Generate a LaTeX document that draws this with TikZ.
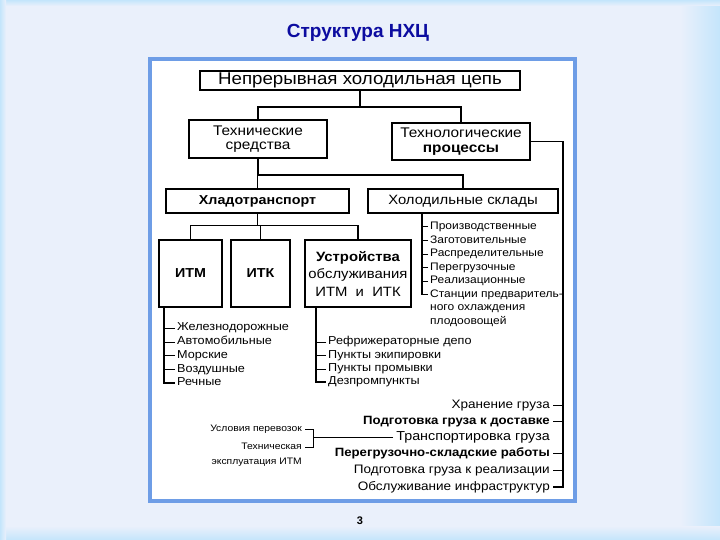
\documentclass[tikz,border=0pt]{standalone}
\usepackage{fontspec}
\setmainfont{Liberation Sans}
\newfontfamily\bm{Liberation Sans}[FakeStretch=1.1]
\usetikzlibrary{calc}
\definecolor{bgc}{HTML}{EAF0FB}
\definecolor{edgec}{HTML}{C4E5FB}
\definecolor{framec}{HTML}{6E9DE6}
\definecolor{titlec}{HTML}{0C0CA0}
\newcommand{\fs}[1]{\fontsize{#1}{#1}\selectfont}
\newcommand{\fsl}[2]{\fontsize{#1}{#2}\selectfont}
\begin{document}
\begin{tikzpicture}[x=1pt,y=-1pt,
  box/.style={draw, line width=1.8pt, inner sep=0pt, align=center, font=\bm\fsl{14}{14.5}},
  thickbox/.style={box, line width=2.6pt, font=\bm\fs{13.5}},
  conn/.style={line width=1.3pt},
  stem/.style={line width=1.8pt},
  tick/.style={line width=1pt},
  item/.style={anchor=west, inner xsep=2pt, inner ysep=0pt, text height=8pt, text depth=2.5pt, font=\bm\fs{11.5}},
  sitem/.style={item, font=\bm\fs{10.9}},
  ritem/.style={anchor=east, inner xsep=3pt, inner ysep=0pt, text height=9pt, text depth=3pt, font=\bm\fs{12.3}},
  litem/.style={anchor=east, inner xsep=3pt, inner ysep=0pt, text height=7pt, text depth=2pt, font=\bm\fs{9.4}}]
% background
\fill[bgc] (0,0) rectangle (720,540);
\shade[left color=bgc, right color=edgec] (680,0) rectangle (720,540);
\shade[top color=bgc, bottom color=edgec] (0,526) rectangle (720,540);
\shade[top color=edgec, bottom color=bgc] (0,0) rectangle (720,6);
\shade[left color=edgec, right color=bgc] (0,0) rectangle (6,540);
% frame
\filldraw[fill=white, draw=framec, line width=4pt] (150,59) rectangle (575,501);
% title and page number
\node[font=\bfseries\fs{19}, text=titlec] (title) at (358,33) {Структура НХЦ};
\node[font=\bfseries\fs{11}] (page) at (360,521) {3};
% boxes
\node[box, font=\bm\fs{17}, minimum width=320pt, minimum height=19pt] (top) at (360,80.5) {Непрерывная холодильная цепь};
\node[box, minimum width=138pt, minimum height=38pt] (tech) at (258,139) {Технические\\средства};
\node[box, minimum width=138pt, minimum height=37pt] (techno) at (461,141.5) {Технологические\\\bfseries процессы};
\node[thickbox, font=\bm\bfseries\fs{13}, minimum width=183pt, minimum height=24pt] (hlad) at (257.5,201) {Хладотранспорт};
\node[thickbox, minimum width=190pt, minimum height=24pt] (sklad) at (463,201) {Холодильные склады};
\node[box, font=\bm\bfseries\fs{13}, minimum width=63pt, minimum height=67pt] (itm) at (190.5,273.5) {ИТМ};
\node[box, font=\bm\bfseries\fs{13}, minimum width=59pt, minimum height=67pt] (itk) at (260.5,273.5) {ИТК};
\node[box, font=\bm\fsl{13.5}{17.5}, minimum width=106pt, minimum height=67pt] (ustr) at (358,273.5) {{\bfseries Устройства}\\обслуживания\\ИТМ\ \ и\ \ ИТК};
% main connectors
\draw[conn] (top.south) -- ++(0,16) coordinate (j1) -| (tech.north);
\draw[conn] (j1) -| (techno.north);
\draw[conn] (tech.south) -- ++(0,16) coordinate (j2) -| (hlad.north);
\draw[conn] (j2) -| (sklad.north);
\draw[conn] (hlad.south) -- ++(0,11) coordinate (j3) -| (itm.north);
\draw[conn] (j3) -| (itk.north);
\draw[conn] (j3) -| (ustr.north);
% cold stores list
\coordinate (sx) at (422,0);
\node[sitem] (s1) at (428,227) {Производственные};
\node[sitem] (s2) at (428,240.5) {Заготовительные};
\node[sitem] (s3) at (428,254) {Распределительные};
\node[sitem] (s4) at (428,267.5) {Перегрузочные};
\node[sitem] (s5) at (428,281) {Реализационные};
\node[sitem] (s6) at (428,294.5) {Станции предваритель-};
\node[sitem] (s7) at (428,308) {ного охлаждения};
\node[sitem] (s8) at (428,321.5) {плодоовощей};
\draw[stem] (sklad.south -| sx) |- (s6.west);
\foreach \n in {s1,s2,s3,s4,s5} \draw[tick] (\n.west) -- (\n.west -| sx);
% ITM list
\coordinate (ix) at (164,0);
\node[item] (i1) at (175,328) {Железнодорожные};
\node[item] (i2) at (175,342) {Автомобильные};
\node[item] (i3) at (175,355.5) {Морские};
\node[item] (i4) at (175,369.5) {Воздушные};
\node[item] (i5) at (175,383) {Речные};
\draw[stem] (itm.south -| ix) |- (i5.west);
\foreach \n in {i1,i2,i3,i4} \draw[tick] (\n.west) -- (\n.west -| ix);
% service devices list
\coordinate (ux) at (316,0);
\node[item] (u1) at (326,342) {Рефрижераторные депо};
\node[item] (u2) at (326,355.5) {Пункты экипировки};
\node[item] (u3) at (326,369) {Пункты промывки};
\node[item] (u4) at (326,382) {Дезпромпункты};
\draw[stem] (ustr.south -| ux) |- (u4.west);
\foreach \n in {u1,u2,u3} \draw[tick] (\n.west) -- (\n.west -| ux);
% processes list
\coordinate (rx) at (563,0);
\node[ritem] (p1) at (553,405) {Хранение груза};
\node[ritem, font=\bm\bfseries\fs{12}] (p2) at (553,421.5) {Подготовка груза к доставке};
\node[ritem, font=\bm\fs{13}] (p3) at (553,437.5) {Транспортировка груза};
\node[ritem, font=\bm\bfseries\fs{12}] (p4) at (553,453.5) {Перегрузочно-складские работы};
\node[ritem] (p5) at (553,470) {Подготовка груза к реализации};
\node[ritem] (p6) at (553,487) {Обслуживание инфраструктур};
\draw[conn] (techno.east) -| (p6.east -| rx) -- (p6.east);
\foreach \n in {p1,p2,p4,p5} \draw[tick] (\n.east) -- (\n.east -| rx);
% transport bracket
\coordinate (bx) at (313,0);
\node[litem] (l1) at (305,429) {Условия перевозок};
\node[litem] (l2) at (305,447) {Техническая};
\node[litem] (l3) at (305,462) {эксплуатация ИТМ};
\draw[tick] (l1.east) -- (l1.east -| bx) -- (l2.east -| bx) -- (l2.east);
\draw[tick] (p3.west) -- (p3.west -| bx);
\end{tikzpicture}
\end{document}
